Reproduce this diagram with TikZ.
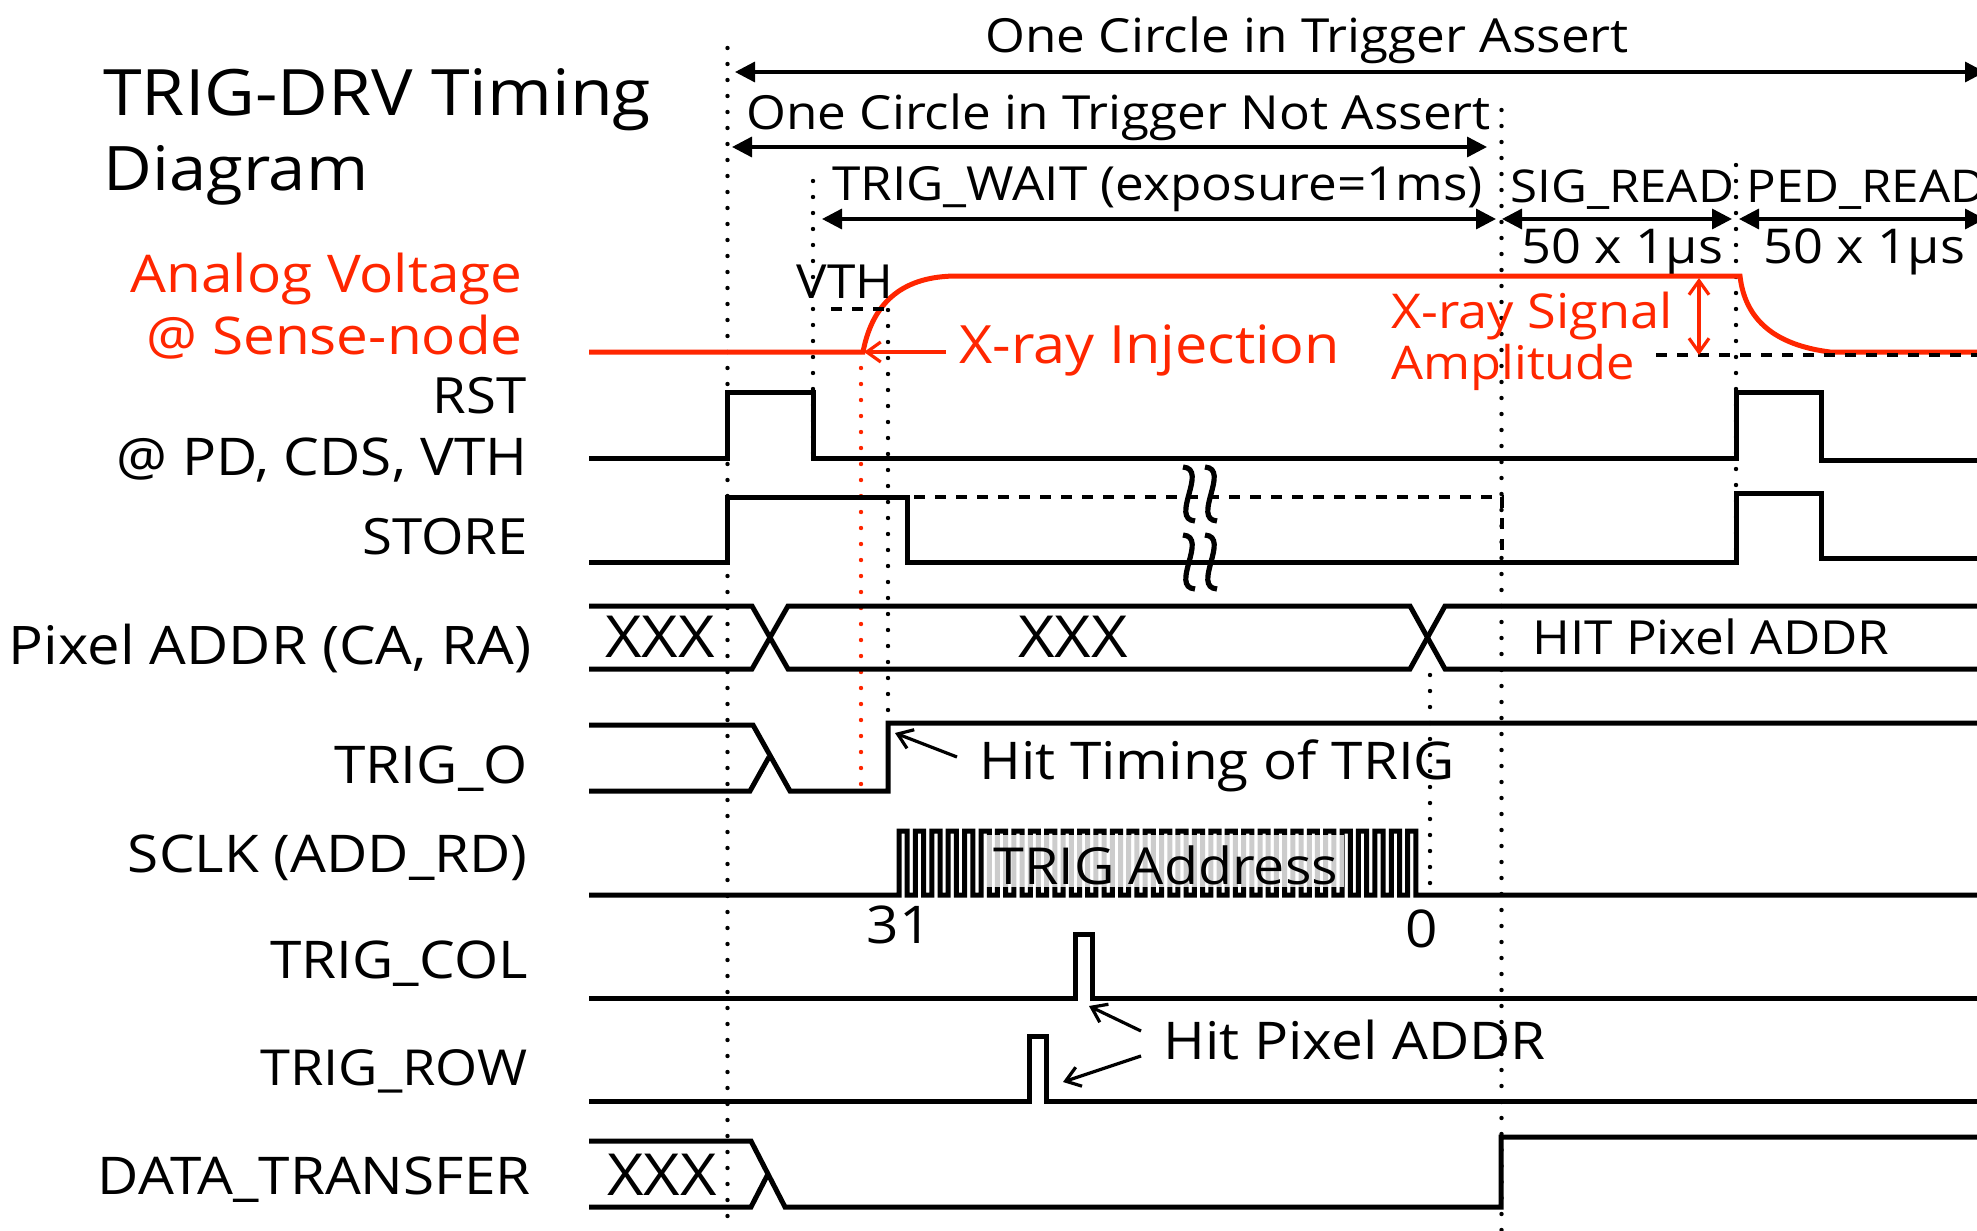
\documentclass[tikz,border=0pt]{standalone}
\usepackage{fontspec}
\setmainfont[FakeStretch=1.09]{Open Sans}
\usetikzlibrary{arrows.meta}
\definecolor{sigred}{RGB}{255,38,0}
\tikzset{
  wave/.style={line width=2.5pt, miter limit=4},
  redwave/.style={line width=2.5pt, color=sigred},
  dots/.style={line width=2.2pt, line cap=round, dash pattern=on 0pt off 8pt},
  dash line/.style={line width=2.4pt, dash pattern=on 5.5pt off 5pt},
  span/.style={line width=1.7pt, {Triangle[length=10pt,width=10pt]}-{Triangle[length=10pt,width=10pt]}},
  note/.style={line width=1.6pt, -{Straight Barb[length=7pt,width=10pt]}},
  txt/.style={inner sep=0pt, font=\fontsize{23.5}{28}\selectfont},
  bigtxt/.style={inner sep=0pt, font=\fontsize{26}{31}\selectfont},
  smalltxt/.style={inner sep=0pt, anchor=base east, font=\fontsize{25}{30}\selectfont},
  lbl/.style={bigtxt, anchor=base east},
  lefttxt/.style={txt, anchor=base west},
  bigleft/.style={bigtxt, anchor=base west},
  ttl/.style={inner sep=0pt, anchor=base west, font=\fontsize{32}{38}\selectfont},
  xxx/.style={inner sep=0pt, font=\fontsize{29}{34}\selectfont}
}
\begin{document}
\begin{tikzpicture}[x=0.5pt,y=-0.5pt]
\clip (0,0) rectangle (1977,1231);
% Title
\node[ttl] (title1) at (103,115) {TRIG-DRV Timing};
\node[ttl,font=\fontsize{30.7}{36}\selectfont] (title2) at (103,190) {Diagram};

% Signal names
\node[lbl,text=sigred] (ana1) at (523,292) {Analog Voltage};
\node[lbl,text=sigred] (ana2) at (523,354) {@ Sense-node};
\node[smalltxt] (rst1) at (527,413) {RST};
\node[lbl] (rst2) at (528,475) {@ PD, CDS, VTH};
\node[smalltxt] (store) at (528,554) {STORE};
\node[lbl,font=\fontsize{26.6}{31}\selectfont] (addr) at (532,664) {Pixel ADDR (CA, RA)};
\node[lbl] (trigo) at (528,783) {TRIG\_O};
\node[lbl] (sclk) at (528,872) {SCLK (ADD\_RD)};
\node[lbl] (tcol) at (528,978) {TRIG\_COL};
\node[smalltxt,font=\fontsize{24.8}{30}\selectfont] (trow) at (528,1085) {TRIG\_ROW};
\node[lbl] (dtx) at (531,1194) {DATA\_TRANSFER};

% Dotted guides
\draw[dots] (727.5,48) -- (727.5,1231);
\draw[dots] (813,181) -- (813,458);
\draw[dots] (888,310) -- (888,723);
\draw[dots] (1501.5,110) -- (1501.5,1231);
\draw[dots] (1736,165) -- (1736,562);
\draw[dots] (1430,675) -- (1430,890);
\draw[dots,sigred] (861,352) -- (861,791);

% Spans at the top
\coordinate (a1) at (735,72); \coordinate (a2) at (1985,72);
\coordinate (b1) at (732,147); \coordinate (b2) at (1487,147);
\coordinate (c1) at (822,219); \coordinate (c2) at (1496,219);
\coordinate (d1) at (1502,219); \coordinate (d2) at (1732,219);
\coordinate (e1) at (1739,219); \coordinate (e2) at (1985,219);
\draw[span] (a1) -- (a2);
\draw[span] (b1) -- (b2);
\draw[span] (c1) -- (c2);
\draw[span] (d1) -- (d2);
\draw[span] (e1) -- (e2);
\node[lefttxt] (assert) at (985,53) {One Circle in Trigger Assert};
\node[lefttxt] (notassert) at (746,129) {One Circle in Trigger Not Assert};
\node[lefttxt] (twait) at (832,200) {TRIG\_WAIT (exposure=1ms)};
\node[lefttxt,font=\fontsize{22.6}{27}\selectfont] (sigrd) at (1510,202) {SIG\_READ};
\node[lefttxt,font=\fontsize{22.6}{27}\selectfont] (pedrd) at (1746,202) {PED\_READ};
\node[lefttxt,font=\fontsize{24}{28}\selectfont] (sigus) at (1521,263) {50 x 1µs};
\node[lefttxt,font=\fontsize{24}{28}\selectfont] (pedus) at (1763,263) {50 x 1µs};

% Analog voltage
\draw[redwave] (589,352) -- (863,352) .. controls (873,300) and (905,276) .. (957,276) -- (1740,276)
  .. controls (1745,320) and (1775,345) .. (1830,352) -- (1977,352);
\node[txt] (vth) at (845,282) {VTH};
\draw[dash line] (831,309) -- (886,309);
\draw[dash line] (1656,355) -- (1977,355);
\node[bigleft,font=\fontsize{26.4}{31}\selectfont,text=sigred] (inject) at (959,363) {X-ray Injection};
\coordinate (injfrom) at (946,352); \coordinate (injto) at (864,352);
\draw[note,color=sigred] (injfrom) -- (injto);
\node[lefttxt,text=sigred,font=\fontsize{24}{28}\selectfont] (amp1) at (1391,328) {X-ray Signal};
\node[lefttxt,text=sigred,font=\fontsize{23.2}{28}\selectfont] (amp2) at (1391,379) {Amplitude};
\coordinate (amptop) at (1699,278); \coordinate (ampbot) at (1699,355);
\draw[note,color=sigred,{Straight Barb[length=7pt,width=10pt]}-{Straight Barb[length=7pt,width=10pt]}] (amptop) -- (ampbot);

% RST
\draw[wave] (589,458) -- (727,458) -- (727,392) -- (813,392) -- (813,458) -- (1736,458) -- (1736,392)
  -- (1821,392) -- (1821,460) -- (1977,460);

% STORE
\draw[dash line] (727,562) -- (727,497) -- (1502,497) -- (1502,562);
\draw[wave] (589,562) -- (727,562) -- (727,497) -- (907,497) -- (907,562) -- (1736,562) -- (1736,493)
  -- (1821,493) -- (1821,558) -- (1977,558);
\foreach \y in {467,535}
  \foreach \x in {1183,1205}
    \draw[line width=2.6pt] (\x,\y) .. controls (\x+26,\y+2) and (\x-14,\y+52) .. (\x+12,\y+54);

% Pixel ADDR
\draw[wave] (589,606) -- (752,606) -- (788,669) -- (1410,669) -- (1445,606) -- (1977,606);
\draw[wave] (589,669) -- (752,669) -- (788,606) -- (1410,606) -- (1445,669) -- (1977,669);
\node[xxx] (xxxa) at (660,637) {XXX};
\node[xxx] (xxxb) at (1073,637) {XXX};
\node[txt] (hitaddr) at (1711,637) {HIT Pixel ADDR};

% TRIG_O
\draw[wave] (589,725) -- (753,725) -- (790,791) -- (888,791) -- (888,723) -- (1977,723);
\draw[wave] (589,791) -- (750,791) -- (769,757);
\node[bigleft] (hittime) at (979,779) {Hit Timing of TRIG};
\coordinate (hitfrom) at (957,757); \coordinate (hitto) at (895,733);
\draw[note] (hitfrom) -- (hitto);

% SCLK
\draw[wave] (589,895) -- (899,895) foreach \i in {0,...,31} {
  -- ({899+16.41*\i},831) -- ({907.2+16.41*\i},831) -- ({907.2+16.41*\i},895) -- ({915.4+16.41*\i},895)
} -- (1977,895);
\fill[white,opacity=0.8] (986,835) rectangle (1344,887);
\node[lefttxt,font=\fontsize{25.5}{30}\selectfont] (trigad) at (993,884) {TRIG Address};
\node[bigtxt] (n31) at (899,925) {31};
\node[bigtxt] (n0) at (1422,929) {0};

% TRIG_COL and TRIG_ROW
\draw[wave] (589,998) -- (1075,998) -- (1075,934) -- (1092,934) -- (1092,998) -- (1977,998);
\draw[wave] (589,1101) -- (1029,1101) -- (1029,1036) -- (1046,1036) -- (1046,1101) -- (1977,1101);
\node[bigleft] (hitpix) at (1163,1059) {Hit Pixel ADDR};
\coordinate (pixfrom1) at (1141,1031); \coordinate (pixto1) at (1089,1006);
\coordinate (pixfrom2) at (1141,1056); \coordinate (pixto2) at (1063,1082);
\draw[note] (pixfrom1) -- (pixto1);
\draw[note] (pixfrom2) -- (pixto2);

% DATA_TRANSFER
\draw[wave] (589,1141) -- (751,1141) -- (785,1207) -- (1501,1207) -- (1501,1137) -- (1977,1137);
\draw[wave] (589,1207) -- (751,1207) -- (768,1174);
\node[xxx] (xxxc) at (662,1175) {XXX};
\end{tikzpicture}
\end{document}
